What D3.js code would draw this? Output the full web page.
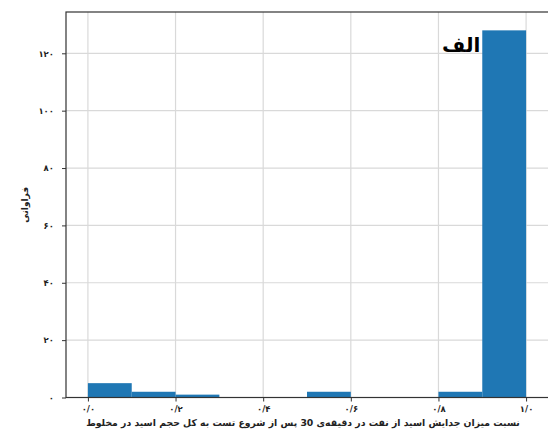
<!DOCTYPE html>
<html lang="fa">
<head>
<meta charset="utf-8">
<title>hist</title>
<script src="https://d3js.org/d3.v7.min.js"></script>
<style>
  body { margin: 0; background: #fff; }
  text { font-family: "DejaVu Sans", sans-serif; }
</style>
</head>
<body>
<svg width="548" height="429"></svg>
<script>
// histogram data
var binEdges = [0.0, 0.1, 0.2, 0.3, 0.4, 0.5, 0.6, 0.7, 0.8, 0.9, 1.0];
var counts = [5, 2, 1, 0, 0, 2, 0, 0, 2, 128];
var xTicks = [0.0, 0.2, 0.4, 0.6, 0.8, 1.0];
var xTickLabels = ["۰/۰", "۰/۲", "۰/۴", "۰/۶", "۰/۸", "۱/۰"];
var yTicks = [0, 20, 40, 60, 80, 100, 120];
var yTickLabels = ["۰", "۲۰", "۴۰", "۶۰", "۸۰", "۱۰۰", "۱۲۰"];
var xLabel = "نسبت میزان جدایش اسید از نفت در دقیقه‌ی 30 پس از شروع تست به کل حجم اسید در مخلوط";
var yLabel = "فراوانی";
var panelLabel = "الف";

var svg = d3.select("svg");
var L = 66, R = 548, T = 12, B = 397.5;

var x = d3.scaleLinear().domain([-0.05, 1.05]).range([L, R]);
var y = d3.scaleLinear().domain([0, 134.4]).range([B, T]);

// grid
svg.append("g").selectAll("line").data(xTicks).enter().append("line")
  .attr("x1", d => x(d)).attr("x2", d => x(d)).attr("y1", T).attr("y2", B)
  .attr("stroke", "#d9d9d9").attr("stroke-width", 1.2);
svg.append("g").selectAll("line").data(yTicks).enter().append("line")
  .attr("x1", L).attr("x2", R).attr("y1", d => y(d)).attr("y2", d => y(d))
  .attr("stroke", "#d9d9d9").attr("stroke-width", 1.2);

// bars
svg.append("g").selectAll("rect").data(counts).enter().append("rect")
  .attr("x", (d, i) => x(binEdges[i]))
  .attr("width", (d, i) => x(binEdges[i + 1]) - x(binEdges[i]))
  .attr("y", d => y(d))
  .attr("height", d => B - y(d))
  .attr("fill", "#1f77b4");

// axes
var xAxis = d3.axisBottom(x).tickValues(xTicks).tickSize(4).tickPadding(4)
  .tickFormat((d, i) => xTickLabels[i]);
var yAxis = d3.axisLeft(y).tickValues(yTicks).tickSize(4).tickPadding(8)
  .tickFormat((d, i) => yTickLabels[i]);

var gx = svg.append("g").attr("transform", `translate(0,${B})`).call(xAxis);
var gy = svg.append("g").attr("transform", `translate(${L},0)`).call(yAxis);
[gx, gy].forEach(g => {
  g.select(".domain").remove();
  g.selectAll("line").attr("stroke", "#333");
  g.selectAll("text").attr("font-size", 8.5).attr("font-weight", "bold")
    .attr("fill", "#222").attr("direction", "ltr");
});

// frame (right spine falls just outside the picture)
svg.append("rect").attr("x", L).attr("y", T).attr("width", R - L + 2).attr("height", B - T)
  .attr("fill", "none").attr("stroke", "#333").attr("stroke-width", 1.2);

// labels
svg.append("text").attr("x", 303).attr("y", 426)
  .attr("text-anchor", "middle").attr("direction", "rtl")
  .attr("font-size", 9.3).attr("font-weight", "bold").attr("fill", "#222")
  .text(xLabel);

svg.append("text").attr("transform", `translate(28,${(T + B) / 2}) rotate(-90)`)
  .attr("text-anchor", "middle").attr("direction", "rtl")
  .attr("font-size", 9).attr("font-weight", "bold").attr("fill", "#222")
  .text(yLabel);

svg.append("text").attr("x", x(0.9) - 2).attr("y", 52)
  .attr("text-anchor", "end")
  .attr("font-size", 20).attr("font-weight", "bold").attr("fill", "#000")
  .text(panelLabel);
</script>
</body>
</html>
